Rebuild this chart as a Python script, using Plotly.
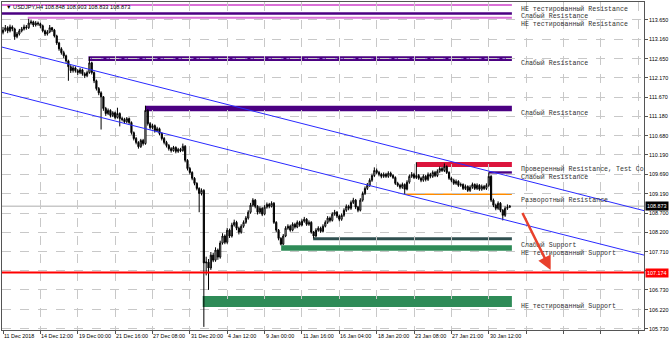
import plotly.graph_objects as go

# ---------------- data ----------------
first_open = 113.33
closes = [
113.39,113.45,113.37,113.47,113.42,113.22,113.29,113.37,113.42,113.47,
113.45,113.57,113.60,113.52,113.57,113.55,113.50,113.37,113.29,113.34,
113.45,113.39,113.24,113.06,112.91,112.81,112.73,112.60,112.45,112.35,
112.42,112.35,112.30,112.37,112.27,112.22,112.30,112.55,112.30,112.09,
111.89,111.78,111.68,111.38,111.25,111.33,111.20,111.27,111.15,111.25,
111.12,111.10,111.04,111.12,111.02,110.76,110.61,110.51,110.40,110.56,
110.48,111.33,110.99,110.89,110.94,110.81,110.86,110.74,110.61,110.51,
110.43,110.35,110.30,110.38,110.28,110.33,110.30,110.41,110.05,109.84,
109.74,109.59,109.46,109.33,109.20,109.28,107.42,107.44,107.29,107.62,
107.49,107.75,107.57,107.93,108.11,107.95,108.26,108.11,108.39,108.46,
108.31,108.21,108.36,108.46,108.57,108.72,108.90,109.03,108.87,108.72,
108.82,108.67,108.85,108.92,108.87,108.95,108.46,108.26,108.05,107.90,
108.11,108.31,108.36,108.26,108.41,108.34,108.46,108.39,108.49,108.54,
108.41,108.46,108.21,108.11,108.26,108.31,108.23,108.36,108.46,108.57,
108.51,108.67,108.72,108.62,108.54,108.64,108.77,108.87,108.82,108.97,
109.03,108.85,108.77,109.03,109.20,109.33,109.41,109.54,109.66,109.79,
109.74,109.69,109.64,109.69,109.64,109.72,109.66,109.61,109.46,109.41,
109.36,109.43,109.31,109.49,109.64,109.69,109.61,109.66,109.59,109.54,
109.64,109.56,109.69,109.64,109.74,109.66,109.77,109.84,109.79,109.89,
109.74,109.59,109.54,109.46,109.51,109.41,109.43,109.33,109.38,109.28,
109.36,109.43,109.33,109.41,109.31,109.38,109.33,109.41,109.64,109.03,
108.90,108.82,108.95,108.77,108.64,108.82,108.848,108.873]
highs = [
113.47,113.52,113.49,113.53,113.51,113.45,113.34,113.42,113.47,113.53,
113.52,113.68,113.66,113.63,113.62,113.61,113.58,113.53,113.40,113.39,
113.52,113.47,113.42,113.27,113.09,112.95,112.86,112.76,112.63,112.49,
112.47,112.46,112.39,112.42,112.40,112.31,112.35,112.70,112.58,112.33,
112.12,111.93,111.82,111.70,111.42,111.38,111.36,111.31,111.30,111.40,
111.28,111.17,111.14,111.16,111.15,111.05,110.79,110.65,110.54,110.60,
110.60,111.45,111.36,111.03,110.99,110.97,110.91,110.89,110.77,110.65,
110.55,110.47,110.39,110.42,110.41,110.37,110.37,110.48,110.44,110.08,
109.88,109.77,109.62,109.49,109.36,109.33,109.31,107.58,107.52,107.70,
107.68,107.82,107.79,107.99,108.18,108.15,108.32,108.30,108.45,108.53,
108.50,108.35,108.41,108.51,108.62,108.77,108.96,109.08,109.06,108.90,
108.87,108.85,108.90,108.97,108.96,109.00,108.98,108.49,108.29,108.08,
108.16,108.36,108.41,108.40,108.46,108.45,108.51,108.50,108.54,108.60,
108.57,108.51,108.49,108.24,108.31,108.36,108.35,108.41,108.51,108.62,
108.61,108.72,108.78,108.75,108.66,108.69,108.82,108.92,108.91,109.02,
109.09,109.06,108.88,109.08,109.25,109.38,109.47,109.59,109.71,109.87,
109.84,109.78,109.73,109.74,109.73,109.77,109.76,109.70,109.64,109.50,
109.45,109.48,109.46,109.54,109.69,109.75,109.73,110.00,109.70,109.63,
109.69,109.68,109.74,109.73,109.79,109.78,109.82,109.89,109.88,109.97,
109.92,109.77,109.63,109.58,109.56,109.54,109.48,109.46,109.43,109.41,
109.41,109.48,109.46,109.46,109.44,109.43,109.42,109.46,109.74,109.67,
109.07,108.94,109.00,108.98,108.80,108.87,108.92,108.903]
lows = [
113.28,113.35,113.31,113.33,113.36,113.14,113.18,113.25,113.33,113.38,
113.40,113.42,113.53,113.47,113.48,113.50,113.44,113.33,113.24,113.25,
113.31,113.34,113.20,113.01,112.86,112.76,112.67,112.55,112.09,112.29,
112.30,112.30,112.24,112.26,112.22,112.16,112.18,112.27,112.25,112.03,
111.84,111.72,110.84,111.32,111.19,111.21,111.15,111.16,111.10,111.12,
110.92,111.05,110.99,111.00,110.97,110.71,110.56,110.46,110.35,110.37,
110.43,110.45,110.94,110.84,110.85,110.76,110.77,110.69,110.56,110.46,
110.38,110.30,110.25,110.27,110.23,110.24,110.26,110.27,110.00,109.79,
109.69,109.54,109.41,109.28,108.72,109.15,105.78,107.10,106.73,107.24,
107.44,107.45,107.50,107.53,107.89,107.90,107.91,108.06,108.07,108.35,
108.26,108.15,108.17,108.32,108.42,108.53,108.68,108.86,108.82,108.66,
108.68,108.62,108.64,108.81,108.82,108.84,108.42,108.21,108.00,107.87,
107.88,108.08,108.27,108.22,108.23,108.30,108.31,108.35,108.36,108.45,
108.37,108.37,108.17,108.05,108.08,108.22,108.19,108.20,108.33,108.42,
108.46,108.48,108.63,108.57,108.49,108.50,108.60,108.73,108.77,108.78,
108.93,108.80,108.72,108.74,108.99,109.16,109.29,109.37,109.50,109.62,
109.69,109.64,109.59,109.60,109.60,109.60,109.62,109.57,109.42,109.37,
109.31,109.32,109.19,109.28,109.45,109.60,109.57,109.57,109.55,109.49,
109.50,109.51,109.52,109.59,109.60,109.62,109.62,109.73,109.75,109.75,
109.70,109.55,109.49,109.42,109.42,109.37,109.37,109.29,109.29,109.24,
109.24,109.32,109.29,109.29,109.27,109.27,109.29,109.29,109.37,108.98,
108.85,108.77,108.78,108.72,108.51,108.60,108.78,108.833]

bars = list(range(len(closes)))
opens = [first_open] + closes[:-1]

time_tick_bars = [0, 16, 32, 48, 64, 80, 96, 112, 128, 144, 160, 176, 192, 208]
time_labels = ["11 Dec 2018", "14 Dec 12:00", "19 Dec 00:00", "21 Dec 16:00",
               "27 Dec 08:00", "31 Dec 20:00", "4 Jan 12:00", "9 Jan 00:00",
               "11 Jan 16:00", "16 Jan 04:00", "18 Jan 20:00", "23 Jan 08:00",
               "27 Jan 21:00", "30 Jan 12:00"]
grid_bars = [0, 16, 32, 48, 64, 80, 96, 112, 128, 144, 160, 176, 192, 208, 224, 240, 256, 272]

price_ticks = [113.650, 113.160, 112.650, 112.170, 111.670, 111.180, 110.680,
               110.190, 109.690, 109.190, 108.700, 108.200, 107.710, 107.220,
               106.730, 106.220, 105.730]
hidden_price_ticks = [107.220]

bid_price = 108.873
level_price = 107.174

# zones: start bar, end bar, top price, bottom price
zone_start = [-1, -1, 10.6, 36.6, 60.9, 177.0, 208.0, 172.3, 132.8, 119.1, 85.5]
zone_end = [217.9] * 11
zone_top = [114.06, 113.85, 113.73, 112.72, 111.45, 110.01, 109.77, 109.20, 108.08, 107.87, 106.57]
zone_bottom = [114.01, 113.78, 113.68, 112.60, 111.31, 109.88, 109.71, 109.16, 108.00, 107.73, 106.29]
zone_colors = ["#DA70D6", "#4B0082", "#DA70D6", "#4B0082", "#4B0082", "#DC143C",
               "#4B0082", "#FF8C00", "#2F4F4F", "#2E8B57", "#2E8B57"]

label_texts = ["НЕ тестированный Resistance", "Слабый Resistance", "НЕ тестированный Resistance",
               "Слабый Resistance", "Слабый Resistance", "Проверенный Resistance, Test Co",
               "Слабый Resistance", "Разворотный Resistance", "Слабый Support",
               "НЕ тестированный Support", "НЕ тестированный Support"]
label_prices = [113.94, 113.74, 113.55, 112.55, 111.27, 109.84, 109.62, 109.03, 107.89, 107.67, 106.32]
label_bar = 220.9

channel_x = [-0.85, 274.5]
channel_upper = [112.96, 108.76]
channel_lower = [111.80, 107.62]

arrow_from = (222.1, 108.74)
arrow_to = (234.5, 107.24)

title_text = "▼ USDJPY,H4 108.848 108.903 108.833 108.873"

# ---------------- figure ----------------
fig = go.Figure()

shapes = []
for x0, x1, y1, y0, col in zip(zone_start, zone_end, zone_top, zone_bottom, zone_colors):
    shapes.append(dict(type="rect", xref="x", yref="y", x0=x0, x1=x1, y0=y0, y1=y1,
                       fillcolor=col, line=dict(width=0), layer="below"))
# dotted inner line of the second purple zone
mid = (zone_top[3] + zone_bottom[3]) / 2
shapes.append(dict(type="line", xref="x", yref="y", x0=zone_start[3], x1=zone_end[3], y0=mid, y1=mid,
                   line=dict(color="#A58FD6", width=1, dash="dot"), layer="below"))
shapes.append(dict(type="line", xref="paper", yref="y", x0=0, x1=1, y0=bid_price, y1=bid_price,
                   line=dict(color="#C8C8C8", width=1.5), layer="below"))
shapes.append(dict(type="line", xref="paper", yref="y", x0=0, x1=1, y0=level_price, y1=level_price,
                   line=dict(color="#FF0000", width=2), layer="above"))

fig.add_trace(go.Scatter(x=channel_x, y=channel_upper, mode="lines",
                         line=dict(color="#2A2AFF", width=1), showlegend=False, hoverinfo="skip"))
fig.add_trace(go.Scatter(x=channel_x, y=channel_lower, mode="lines",
                         line=dict(color="#2A2AFF", width=1), showlegend=False, hoverinfo="skip"))

fig.add_trace(go.Candlestick(
    x=bars, open=opens, high=highs, low=lows, close=closes,
    increasing=dict(line=dict(color="black", width=1), fillcolor="white"),
    decreasing=dict(line=dict(color="black", width=1), fillcolor="black"),
    whiskerwidth=0, showlegend=False, hoverinfo="skip"))

annotations = []
lab_font = dict(family="Liberation Mono, monospace", size=6.6, color="#333333")
for t, p in zip(label_texts, label_prices):
    annotations.append(dict(x=label_bar, y=p, xref="x", yref="y", text=t, showarrow=False,
                            xanchor="left", yanchor="middle", font=lab_font))
ax_font = dict(family="Liberation Sans, Arial", size=5.4, color="black")
for b, t in zip(time_tick_bars, time_labels):
    annotations.append(dict(x=b, y=0, xref="x", yref="paper", text=t, showarrow=False,
                            xanchor="left", yanchor="top", yshift=-1, xshift=-1, font=ax_font))
annotations.append(dict(x=1, y=bid_price, xref="paper", yref="y", text=f"{bid_price:.3f}",
                        showarrow=False, xanchor="left", yanchor="middle", bgcolor="black",
                        font=dict(family="Liberation Sans, Arial", size=5.4, color="white"),
                        borderpad=1, xshift=1))
annotations.append(dict(x=1, y=level_price, xref="paper", yref="y", text=f"{level_price:.3f}",
                        showarrow=False, xanchor="left", yanchor="middle", bgcolor="#FF0000",
                        font=dict(family="Liberation Sans, Arial", size=5.4, color="white"),
                        borderpad=1, xshift=1))
annotations.append(dict(x=arrow_to[0], y=arrow_to[1], ax=arrow_from[0], ay=arrow_from[1],
                        xref="x", yref="y", axref="x", ayref="y", text="", showarrow=True,
                        arrowhead=2, arrowsize=1.1, arrowwidth=2.5, arrowcolor="#E8412C"))
annotations.append(dict(x=0, y=1, xref="paper", yref="paper", text=title_text, showarrow=False,
                        xanchor="left", yanchor="top", xshift=2, yshift=0,
                        font=dict(family="Liberation Sans, Arial", size=5.6, color="black")))

tick_text = ["" if v in hidden_price_ticks else f"{v:.3f}" for v in price_ticks]

fig.update_layout(
    width=670, height=344,
    margin=dict(l=1, r=23, t=1, b=14),
    paper_bgcolor="white", plot_bgcolor="white",
    shapes=shapes, annotations=annotations,
    showlegend=False,
    xaxis=dict(range=[-0.43, 274.47], rangeslider=dict(visible=False),
               tickvals=grid_bars, showticklabels=False, ticks="outside", ticklen=3,
               tickcolor="#555555", showgrid=True, gridcolor="#C8C8C8", griddash="dash",
               gridwidth=1, showline=True, linecolor="#555555", linewidth=1, mirror=True,
               zeroline=False, fixedrange=True),
    yaxis=dict(range=[105.70, 114.11], side="right", tickvals=price_ticks, ticktext=tick_text,
               ticks="outside", ticklen=3, tickcolor="#555555",
               tickfont=dict(family="Liberation Sans, Arial", size=5.4, color="black"),
               showgrid=True, gridcolor="#C8C8C8", griddash="dash", gridwidth=1,
               showline=True, linecolor="#555555", linewidth=1, mirror=True,
               zeroline=False, fixedrange=True),
)

fig.write_html("out.html")
